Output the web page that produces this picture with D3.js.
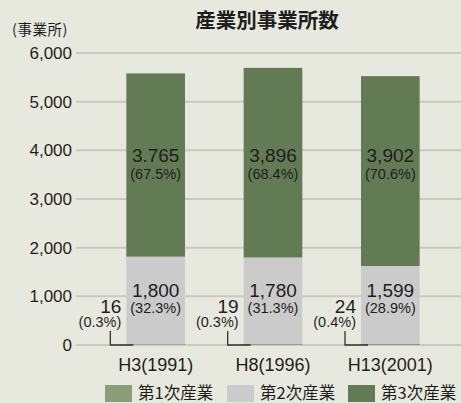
<!DOCTYPE html>
<html><head><meta charset="utf-8">
<script src="https://cdn.jsdelivr.net/npm/d3@7/dist/d3.min.js"></script>
<style>
html,body{margin:0;padding:0;background:#e8e9de;}
svg{display:block;}
text{font-family:"Liberation Sans","Noto Sans CJK JP",sans-serif;fill:#1e1e1e;}
.jp{font-family:"Noto Sans CJK JP",sans-serif;}
</style></head>
<body>
<svg id="c" width="461" height="403"></svg>
<script>
const categories = ["H3(1991)", "H8(1996)", "H13(2001)"];
const primary   = [16, 19, 24];
const secondary = [1800, 1780, 1599];
const tertiary  = [3765, 3896, 3902];
const primaryPct   = ["(0.3%)", "(0.3%)", "(0.4%)"];
const secondaryPct = ["(32.3%)", "(31.3%)", "(28.9%)"];
const tertiaryPct  = ["(67.5%)", "(68.4%)", "(70.6%)"];
const tertiaryLabel = ["3.765", "3,896", "3,902"];
const yTicks = [0, 1000, 2000, 3000, 4000, 5000, 6000];
const seriesNames = ["第1次産業", "第2次産業", "第3次産業"];
const colors = ["#8b9c78", "#cbcbcb", "#627b55"];

const svg = d3.select("#c");
const y = d3.scaleLinear().domain([0, 6000]).range([345, 53]);
const x = d3.scaleBand().domain(categories).range([97, 449]).paddingInner(0.5).paddingOuter(0.25);

// gridlines
svg.append("g").selectAll("line").data(yTicks).join("line")
  .attr("x1", 76).attr("x2", 461)
  .attr("y1", d => y(d)).attr("y2", d => y(d))
  .attr("stroke", "#c9c9c1").attr("stroke-width", 2);

// y tick labels
svg.append("g").selectAll("text").data(yTicks).join("text")
  .attr("x", 72).attr("y", d => y(d)).attr("dy", "0.35em")
  .attr("text-anchor", "end").attr("font-size", 17)
  .text(d => d3.format(",")(d));

// stacked data
const rows = categories.map((c, i) => ({cat: c, p: primary[i], s: secondary[i], t: tertiary[i]}));
const stack = d3.stack().keys(["p", "s", "t"])(rows);
svg.append("g").selectAll("g").data(stack).join("g")
  .attr("fill", (d, i) => colors[i])
  .selectAll("rect").data(d => d).join("rect")
  .attr("x", d => x(d.data.cat)).attr("width", x.bandwidth())
  .attr("y", d => y(d[1])).attr("height", d => y(d[0]) - y(d[1]));

// leader lines for primary
const lead = svg.append("g");
categories.forEach((c, i) => {
  const bx = x(c);
  const lx = bx - 16;
  lead.append("path")
    .attr("d", `M${lx},${y(290)}V${y(0)}H${bx + 7}`)
    .attr("fill", "none").attr("stroke", "#333").attr("stroke-width", 1.3);
  lead.append("text").attr("x", bx - 5).attr("y", y(655))
    .attr("text-anchor", "end").attr("font-size", 19).text(primary[i]);
  lead.append("text").attr("x", bx - 5).attr("y", y(370))
    .attr("text-anchor", "end").attr("font-size", 14.5).text(primaryPct[i]);
});

// in-bar labels
const lab = svg.append("g").attr("text-anchor", "middle");
categories.forEach((c, i) => {
  const cx = x(c) + x.bandwidth() / 2;
  lab.append("text").attr("x", cx).attr("y", y(980)).attr("font-size", 19).text(d3.format(",")(secondary[i]));
  lab.append("text").attr("x", cx).attr("y", y(650)).attr("font-size", 14.5).text(secondaryPct[i]);
  lab.append("text").attr("x", cx).attr("y", y(3760)).attr("font-size", 19).text(tertiaryLabel[i]);
  lab.append("text").attr("x", cx).attr("y", y(3420)).attr("font-size", 14.5).text(tertiaryPct[i]);
});

// x axis labels
svg.append("g").selectAll("text").data(categories).join("text")
  .attr("x", d => x(d) + x.bandwidth() / 2).attr("y", 371)
  .attr("text-anchor", "middle").attr("font-size", 18).text(d => d);

// title & unit
svg.append("text").attr("class", "jp").attr("x", 267).attr("y", 28)
  .attr("text-anchor", "middle").attr("font-size", 20.5).attr("font-weight", 700).text("産業別事業所数");
svg.append("text").attr("class", "jp").attr("x", 12).attr("y", 35)
  .attr("font-size", 14.5).attr("letter-spacing", 0.5).text("(事業所)");

// legend
const legX = [105, 227, 348];
const leg = svg.append("g");
seriesNames.forEach((n, i) => {
  leg.append("rect").attr("x", legX[i]).attr("y", 385).attr("width", 27).attr("height", 17).attr("fill", colors[i]);
  leg.append("text").attr("class", "jp").attr("x", legX[i] + 33).attr("y", 398.5)
    .attr("font-size", 16.5).text(n);
});
</script>
</body></html>
